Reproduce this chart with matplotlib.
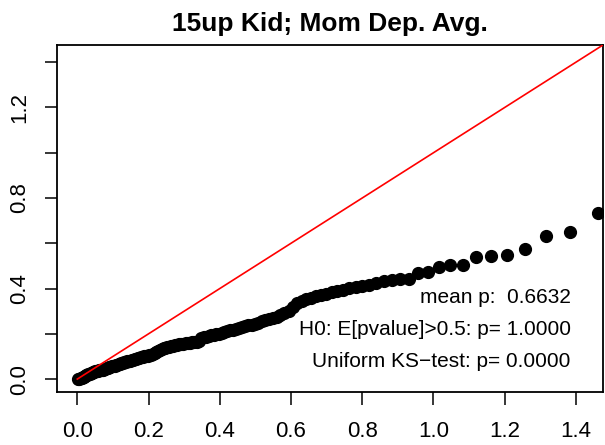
import matplotlib
matplotlib.use("Agg")
import matplotlib.pyplot as plt

plt.rcParams['font.family'] = ['Liberation Sans', 'DejaVu Sans']

# expected -log10(p) (uniform quantiles), points beyond the right edge left out
expected = [1.4624, 1.3832, 1.3163, 1.2583, 1.2072, 1.1614, 1.1200, 1.0822, 1.0475, 1.0153,
            0.9853, 0.9573, 0.9310, 0.9061, 0.8826, 0.8604, 0.8392, 0.8190, 0.7997, 0.7812,
            0.7635, 0.7464, 0.7300, 0.7142, 0.6990, 0.6843, 0.6700, 0.6563, 0.6429, 0.6299,
            0.6173, 0.6051, 0.5932, 0.5816, 0.5703, 0.5593, 0.5486, 0.5382, 0.5279, 0.5179,
            0.5082, 0.4986, 0.4893, 0.4802, 0.4712, 0.4624, 0.4538, 0.4454, 0.4371, 0.4290,
            0.4210, 0.4132, 0.4055, 0.3980, 0.3905, 0.3832, 0.3761, 0.3690, 0.3621, 0.3552,
            0.3485, 0.3419, 0.3353, 0.3289, 0.3226, 0.3163, 0.3101, 0.3041, 0.2981, 0.2922,
            0.2863, 0.2806, 0.2749, 0.2693, 0.2638, 0.2583, 0.2529, 0.2476, 0.2423, 0.2371,
            0.2320, 0.2269, 0.2219, 0.2169, 0.2120, 0.2072, 0.2024, 0.1976, 0.1929, 0.1883,
            0.1837, 0.1791, 0.1746, 0.1702, 0.1658, 0.1614, 0.1571, 0.1528, 0.1486, 0.1444,
            0.1402, 0.1361, 0.1320, 0.1280, 0.1240, 0.1200, 0.1161, 0.1122, 0.1083, 0.1045,
            0.1007, 0.0969, 0.0932, 0.0895, 0.0859, 0.0822, 0.0786, 0.0750, 0.0715, 0.0680,
            0.0645, 0.0610, 0.0576, 0.0542, 0.0508, 0.0475, 0.0441, 0.0408, 0.0375, 0.0343,
            0.0311, 0.0279, 0.0247, 0.0215, 0.0184, 0.0153, 0.0122, 0.0091, 0.0061, 0.0030]

# observed -log10(p), sorted
observed = [0.733, 0.652, 0.630, 0.574, 0.549, 0.544, 0.538, 0.504, 0.503, 0.494,
            0.471, 0.470, 0.443, 0.441, 0.438, 0.432, 0.424, 0.417, 0.412, 0.406,
            0.401, 0.395, 0.389, 0.383, 0.378, 0.371, 0.365, 0.358, 0.352, 0.346,
            0.335, 0.318, 0.300, 0.294, 0.285, 0.275, 0.268, 0.264, 0.260, 0.255,
            0.250, 0.245, 0.241, 0.237, 0.234, 0.230, 0.227, 0.223, 0.219, 0.215,
            0.211, 0.208, 0.205, 0.201, 0.198, 0.195, 0.193, 0.190, 0.187, 0.184,
            0.181, 0.170, 0.163, 0.162, 0.162, 0.161, 0.160, 0.159, 0.157, 0.155,
            0.153, 0.151, 0.149, 0.147, 0.145, 0.142, 0.140, 0.138, 0.136, 0.133,
            0.129, 0.125, 0.121, 0.116, 0.111, 0.108, 0.106, 0.104, 0.102, 0.100,
            0.098, 0.096, 0.094, 0.092, 0.090, 0.088, 0.086, 0.084, 0.082, 0.080,
            0.078, 0.076, 0.074, 0.072, 0.070, 0.068, 0.066, 0.064, 0.062, 0.060,
            0.058, 0.056, 0.054, 0.052, 0.050, 0.048, 0.046, 0.044, 0.042, 0.041,
            0.040, 0.039, 0.037, 0.036, 0.034, 0.032, 0.030, 0.028, 0.026, 0.024,
            0.022, 0.019, 0.016, 0.013, 0.010, 0.008, 0.006, 0.004, 0.002, 0.001]

title = "15up Kid; Mom Dep. Avg."
stats = ["mean p:  0.6632",
         "H0: E[pvalue]>0.5: p= 1.0000",
         "Uniform KS\u2212test: p= 0.0000"]
xticks = [0.0, 0.2, 0.4, 0.6, 0.8, 1.0, 1.2, 1.4]
yticks = [0.0, 0.2, 0.4, 0.6, 0.8, 1.0, 1.2, 1.4]
ylabels = ["0.0", "", "0.4", "", "0.8", "", "1.2", ""]

fig = plt.figure(figsize=(6.05, 4.45), dpi=100)
ax = fig.add_axes([0.0942, 0.1191, 0.9025, 0.7798])

lim = (-0.057, 1.476)
ax.plot([0, 1.6], [0, 1.6], color="red", lw=1.2, zorder=3)
ax.plot(expected, observed, "o", color="black", ms=8.5, zorder=2)

ax.set_xlim(lim)
ax.set_ylim(lim)
ax.set_xticks(xticks)
ax.set_xticklabels([f"{t:.1f}" for t in xticks])
ax.set_yticks(yticks)
ax.set_yticklabels(ylabels, rotation=90, va="center")
ax.tick_params(axis="both", length=9, width=1.1, labelsize=16, direction="out")
ax.tick_params(axis="x", pad=12)
ax.tick_params(axis="y", pad=10)
for s in ax.spines.values():
    s.set_linewidth(1.3)

ax.set_title(title, fontsize=19, fontweight="bold", pad=10)

for k, txt in enumerate(stats):
    ax.text(1.385, 0.36 - k * 0.142, txt, ha="right", va="center", fontsize=15)

fig.savefig("out.png", dpi=100)
